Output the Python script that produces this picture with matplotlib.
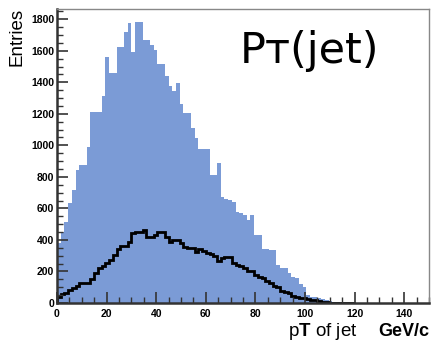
import numpy as np
import matplotlib
matplotlib.use("Agg")
import matplotlib.pyplot as plt
from matplotlib.ticker import MultipleLocator

plt.rcParams["font.family"] = ["Liberation Sans", "DejaVu Sans"]
plt.rcParams["mathtext.fontset"] = "custom"
plt.rcParams["mathtext.rm"] = "Liberation Sans"
plt.rcParams["mathtext.bf"] = "Liberation Sans:bold"

# jet pT histograms, 1.5 GeV/c bins starting at 0
bin_width = 1.5
all_jets = [380, 450, 513, 634, 716, 843, 875, 875, 990, 1210,
            1210, 1210, 1312, 1561, 1460, 1460, 1624, 1624, 1720, 1776,
            1592, 1783, 1783, 1671, 1671, 1635, 1603, 1519, 1519, 1438,
            1375, 1345, 1396, 1265, 1206, 1206, 1107, 1044, 980, 975,
            975, 810, 810, 889, 674, 660, 653, 642, 579, 568,
            560, 526, 558, 431, 431, 340, 340, 336, 336, 240,
            225, 220, 188, 167, 157, 120, 103, 50, 40, 35,
            30, 25, 20, 12, 8, 5, 3, 2, 0, 0]
selected_jets = [35, 55, 61, 82, 97, 105, 125, 129, 129, 150,
                 188, 220, 234, 255, 272, 304, 340, 361, 361, 389,
                 446, 452, 452, 463, 416, 416, 431, 452, 452, 420,
                 389, 399, 399, 378, 357, 347, 347, 325, 340, 330,
                 319, 310, 298, 268, 283, 293, 290, 255, 240, 234,
                 220, 205, 205, 177, 163, 160, 141, 125, 110, 100,
                 78, 70, 61, 45, 40, 32, 30, 25, 19, 17,
                 10, 8, 6, 3, 0, 0, 0, 0, 0, 0]

x_ticks = [0, 20, 40, 60, 80, 100, 120, 140]
y_ticks = [0, 200, 400, 600, 800, 1000, 1200, 1400, 1600, 1800]

edges = np.arange(len(all_jets) + 1) * bin_width

fig = plt.figure(figsize=(4.34, 3.44), dpi=100)
ax = fig.add_axes([0.1313, 0.1192, 0.8572, 0.8546])

ax.stairs(all_jets, edges, fill=True, color="#7b9bd6", lw=0)
ax.stairs(selected_jets, edges, color="black", lw=2.0)

ax.set_xlim(0, 150)
ax.set_ylim(0, 1865)

ax.set_xticks(x_ticks)
ax.set_yticks(y_ticks)
ax.xaxis.set_minor_locator(MultipleLocator(5))
ax.yaxis.set_minor_locator(MultipleLocator(50))
ax.tick_params(axis="both", which="major", direction="in", length=8,
               width=1.2, color="#333333", labelsize=7.5)
ax.tick_params(axis="both", which="minor", direction="in", length=4,
               width=1.0, color="#333333")
ax.tick_params(axis="x", pad=4)
ax.tick_params(axis="y", pad=2)
for lab in ax.get_xticklabels() + ax.get_yticklabels():
    lab.set_fontweight("bold")

for side in ["left", "bottom"]:
    ax.spines[side].set_linewidth(1.8)
    ax.spines[side].set_color("#333333")
for side in ["top", "right"]:
    ax.spines[side].set_linewidth(1.0)
    ax.spines[side].set_color("#888888")

# axis titles in the ROOT style
fig.text(0.040, 0.977, "Entries", rotation=90, ha="center", va="top",
         fontsize=13.5)
fig.text(0.823, 0.035, r"p$\mathbf{T}$ of jet", ha="right", va="center",
         fontsize=13.5)
fig.text(0.99, 0.035, "GeV/c", ha="right", va="center", fontsize=13,
         fontweight="bold")

ax.text(0.492, 0.816, "Pт(jet)", transform=ax.transAxes, ha="left",
        va="baseline", fontsize=31, family=["DejaVu Sans"])

fig.savefig("out.png", dpi=100)
